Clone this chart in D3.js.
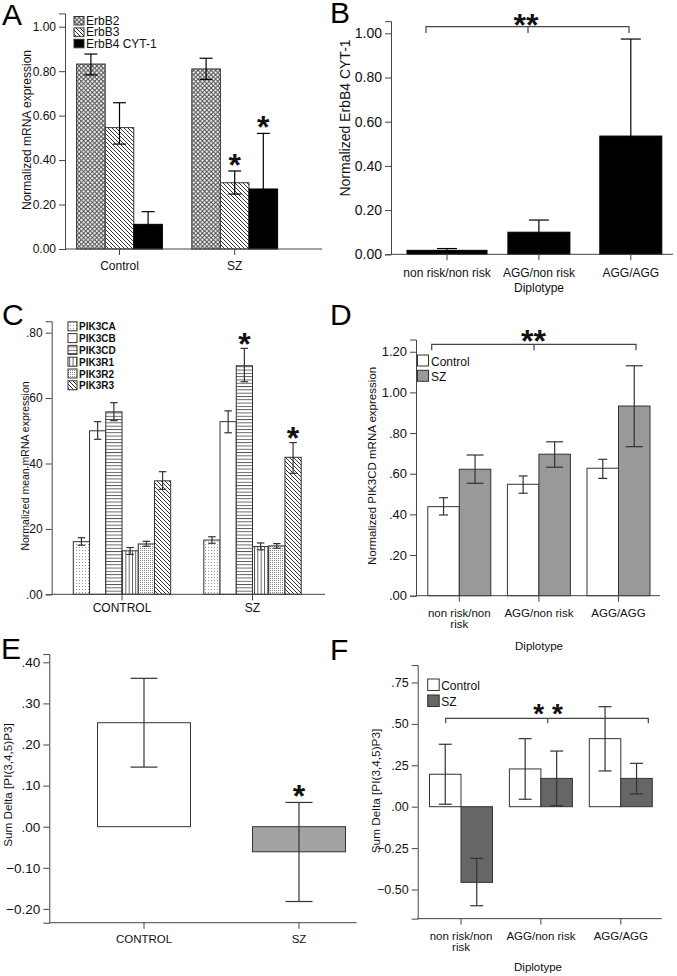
<!DOCTYPE html>
<html><head><meta charset="utf-8">
<script src="https://cdn.jsdelivr.net/npm/d3@7/dist/d3.min.js"></script>
<style>body{margin:0;background:#fff}svg{display:block}</style>
</head><body>
<script>
// ---------------- DATA ----------------
// Panel A
const catsA = ["Control", "SZ"];
const seriesA = ["ErbB2", "ErbB3", "ErbB4 CYT-1"];
const meanA = [[0.832, 0.546, 0.111], [0.810, 0.298, 0.270]];
const errLoA = [[0.783, 0.472, 0.054], [0.763, 0.247, 0.020]];
const errHiA = [[0.877, 0.658, 0.168], [0.858, 0.351, 0.520]];
const sigA = [[0, 0, 0], [0, 1, 1]];
const ticksA = [0, 0.2, 0.4, 0.6, 0.8, 1.0];
// Panel B
const catsB = ["non risk/non risk", "AGG/non risk", "AGG/AGG"];
const meanB = [0.018, 0.100, 0.535];
const errLoB = [0.010, 0.045, 0.096];
const errHiB = [0.026, 0.155, 0.974];
const ticksB = [0, 0.2, 0.4, 0.6, 0.8, 1.0];
// Panel C
const catsC = ["CONTROL", "SZ"];
const seriesC = ["PIK3CA", "PIK3CB", "PIK3CD", "PIK3R1", "PIK3R2", "PIK3R3"];
const meanC = [[0.161, 0.500, 0.558, 0.133, 0.154, 0.347], [0.166, 0.528, 0.699, 0.146, 0.148, 0.419]];
const errLoC = [[0.150, 0.474, 0.531, 0.122, 0.147, 0.321], [0.156, 0.494, 0.650, 0.136, 0.141, 0.370]];
const errHiC = [[0.173, 0.528, 0.586, 0.143, 0.162, 0.375], [0.176, 0.561, 0.752, 0.157, 0.155, 0.464]];
const sigC = [[0, 0, 0, 0, 0, 0], [0, 0, 1, 0, 0, 1]];
const ticksC = [0, 0.2, 0.4, 0.6, 0.8];
// Panel D
const catsD = ["non risk/non risk", "AGG/non risk", "AGG/AGG"];
const groupsD = ["Control", "SZ"];
const meanD = [[0.438, 0.622], [0.548, 0.696], [0.627, 0.933]];
const errLoD = [[0.397, 0.553], [0.504, 0.632], [0.577, 0.733]];
const errHiD = [[0.482, 0.692], [0.589, 0.757], [0.671, 1.131]];
const ticksD = [0, 0.2, 0.4, 0.6, 0.8, 1.0, 1.2];
// Panel E
const catsE = ["CONTROL", "SZ"];
const meanE = [0.253, -0.061];
const errLoE = [0.145, -0.182];
const errHiE = [0.361, 0.059];
const sigE = [0, 1];
const ticksE = [-0.2, -0.1, 0, 0.1, 0.2, 0.3, 0.4];
// Panel F
const catsF = ["non risk/non risk", "AGG/non risk", "AGG/AGG"];
const groupsF = ["Control", "SZ"];
const meanF = [[0.196, -0.457], [0.228, 0.171], [0.411, 0.171]];
const errLoF = [[0.015, -0.598], [0.045, 0.006], [0.216, 0.077]];
const errHiF = [[0.377, -0.312], [0.411, 0.336], [0.604, 0.262]];
const ticksF = [-0.5, -0.25, 0, 0.25, 0.5, 0.75];

// ---------------- SETUP ----------------
const W = 677, H = 976;
const FONT = "'Liberation Sans', Arial, Helvetica, sans-serif";
const AX = "#444", INK = "#333", TXT = "#111";
const svg = d3.select("body").append("svg").attr("width", W).attr("height", H)
  .attr("font-family", FONT);

const defs = svg.append("defs");
function pat(id, w, h, build) {
  const p = defs.append("pattern").attr("id", id).attr("patternUnits", "userSpaceOnUse")
    .attr("width", w).attr("height", h);
  p.append("rect").attr("width", w).attr("height", h).attr("fill", "#fff");
  build(p);
}
pat("pCross", 4.4, 4.4, p => p.append("path").attr("d", "M0,0L4.4,4.4M4.4,0L0,4.4")
  .attr("stroke", "#444").attr("stroke-width", 1));
pat("pDiag", 4, 4, p => p.append("path").attr("d", "M-1,-1L5,5M-1,3L1,5M3,-1L5,1")
  .attr("stroke", "#333").attr("stroke-width", 1));
pat("pHoriz", 3.3, 3.3, p => p.append("rect").attr("y", 0).attr("width", 3.3).attr("height", 0.9).attr("fill", "#555"));
pat("pVert", 3.3, 3.3, p => p.append("rect").attr("x", 0).attr("width", 0.9).attr("height", 3.3).attr("fill", "#555"));
pat("pDotLight", 3, 3, p => p.append("rect").attr("x", 1).attr("y", 1).attr("width", 1).attr("height", 1).attr("fill", "#999"));
pat("pDotDense", 2, 2, p => p.append("rect").attr("x", 0).attr("y", 0).attr("width", 1).attr("height", 1).attr("fill", "#8a8a8a"));

const fillA = ["url(#pCross)", "url(#pDiag)", "#000"];
const fillC = ["url(#pDotLight)", "#fff", "url(#pHoriz)", "url(#pVert)", "url(#pDotDense)", "url(#pDiag)"];

const fmt2 = d3.format(".2f");
const fmtNZ = v => fmt2(v).replace(/^(-?)0\./, "$1.");

function wrap(s) {
  if (s.length > 13) { const i = s.lastIndexOf(" "); return [s.slice(0, i), s.slice(i + 1)]; }
  return [s];
}

function yAxis(c) {
  const y = d3.scaleLinear().domain([c.lo, c.hi])
    .range([c.y0 - c.lo * c.ppu, c.y0 - c.hi * c.ppu]);
  const g = svg.append("g").attr("transform", `translate(${c.x},0)`)
    .call(d3.axisLeft(y).tickValues(c.ticks).tickFormat(c.fmt).tickSizeOuter(0).tickSize(6).tickPadding(3));
  g.attr("font-family", FONT).attr("font-size", c.fs);
  g.selectAll("line,path").attr("stroke", AX).attr("stroke-width", 1);
  g.selectAll("text").attr("fill", TXT);
  return y;
}
function xAxis(c, x, y, cats) {
  const yb = y(c.lo);
  svg.append("line").attr("x1", c.x).attr("x2", c.xEnd).attr("y1", yb).attr("y2", yb)
    .attr("stroke", AX).attr("stroke-width", 1);
  cats.forEach(cat => {
    svg.append("line").attr("x1", x(cat)).attr("x2", x(cat)).attr("y1", yb).attr("y2", yb + 6)
      .attr("stroke", AX).attr("stroke-width", 1);
    const lines = c.wrap ? wrap(cat) : [cat];
    lines.forEach((ln, i) => {
      svg.append("text").attr("x", x(cat)).attr("y", c.labY + i * 11)
        .attr("text-anchor", "middle").attr("font-size", c.cfs).attr("fill", TXT).text(ln);
    });
  });
}
function yTitle(x, y, fs, txt) {
  svg.append("text").attr("transform", `translate(${x},${y}) rotate(-90)`)
    .attr("text-anchor", "middle").attr("dy", "0.35em").attr("font-size", fs).attr("fill", TXT).text(txt);
}
function letter(x, y, t) {
  svg.append("text").attr("x", x).attr("y", y).attr("font-size", 30).attr("fill", "#000").text(t);
}
function star(x, yc, txt, fs) {
  fs = fs || 32;
  svg.append("text").attr("x", x).attr("y", yc + 0.56 * fs).attr("text-anchor", "middle")
    .attr("font-size", fs).attr("font-weight", "bold").attr("fill", "#111").text(txt);
}
function bar(x0, w, y, v, fill, stroke) {
  svg.append("rect").attr("x", x0).attr("width", w)
    .attr("y", y(Math.max(v, 0))).attr("height", Math.abs(y(v) - y(0)))
    .attr("fill", fill).attr("stroke", stroke || INK).attr("stroke-width", 1);
}
function err(cx, y, lo, hi, cap, col) {
  const g = svg.append("g").attr("stroke", col || INK).attr("stroke-width", 1.2);
  g.append("line").attr("x1", cx).attr("x2", cx).attr("y1", y(lo)).attr("y2", y(hi));
  [lo, hi].forEach(v => g.append("line").attr("x1", cx - cap / 2).attr("x2", cx + cap / 2)
    .attr("y1", y(v)).attr("y2", y(v)));
}
function bracket(x1, x2, xm, yl, drop) {
  svg.append("path").attr("d", `M${x1},${yl + drop}V${yl}H${x2}V${yl + drop}M${xm},${yl}V${yl + drop}`)
    .attr("fill", "none").attr("stroke", AX).attr("stroke-width", 1.2);
}
function legend(x, yTop, step, sw, sh, names, fills, fs, bold, tdx, tdy) {
  names.forEach((n, i) => {
    svg.append("rect").attr("x", x).attr("y", yTop + i * step).attr("width", sw).attr("height", sh)
      .attr("fill", fills[i]).attr("stroke", INK).attr("stroke-width", 1);
    svg.append("text").attr("x", x + sw + tdx).attr("y", yTop + i * step + tdy)
      .attr("font-size", fs).attr("font-weight", bold ? "bold" : "normal").attr("fill", TXT).text(n);
  });
}

// ---------------- PANEL A ----------------
{
  const c = { x: 65, xEnd: 322, y0: 249, ppu: 222.3, lo: 0, hi: 1.06, ticks: ticksA, fmt: fmt2, fs: 12, cfs: 12, labY: 270 };
  const y = yAxis(c);
  const x = d3.scalePoint().domain(catsA).range([119.5, 234.7]);
  const xs = d3.scaleBand().domain(seriesA).range([-42.9, 42.9]);
  catsA.forEach((cat, i) => seriesA.forEach((s, j) => bar(x(cat) + xs(s), xs.bandwidth(), y, meanA[i][j], fillA[j], j === 2 ? "#000" : INK)));
  catsA.forEach((cat, i) => seriesA.forEach((s, j) => err(x(cat) + xs(s) + xs.bandwidth() / 2, y, errLoA[i][j], errHiA[i][j], 13, "#000")));
  catsA.forEach((cat, i) => seriesA.forEach((s, j) => { if (sigA[i][j]) star(x(cat) + xs(s) + xs.bandwidth() / 2, y(errHiA[i][j]) - 13, "*"); }));
  xAxis(c, x, y, catsA);
  yTitle(27, 130, 12, "Normalized mRNA expression");
  legend(74, 16.5, 11.4, 10, 8.5, seriesA, fillA, 12, false, 2, 8.2);
  letter(2, 25, "A");
}
// ---------------- PANEL B ----------------
{
  const c = { x: 391, xEnd: 673, y0: 254.3, ppu: 221, lo: 0, hi: 1.055, ticks: ticksB, fmt: fmt2, fs: 14, cfs: 12, labY: 277 };
  const y = yAxis(c);
  const x = d3.scalePoint().domain(catsB).range([447, 630.8]);
  const bwB = [80, 62, 62];
  catsB.forEach((cat, i) => bar(x(cat) - bwB[i] / 2, bwB[i], y, meanB[i], "#000", "#000"));
  catsB.forEach((cat, i) => err(x(cat), y, errLoB[i], errHiB[i], 20, "#000"));
  xAxis(c, x, y, catsB);
  svg.append("text").attr("x", 539).attr("y", 292).attr("text-anchor", "middle").attr("font-size", 12).attr("fill", TXT).text("Diplotype");
  yTitle(345, 118, 14, "Normalized ErbB4 CYT-1");
  bracket(426, 629, 528, 26.7, 6.3);
  star(526, 18, "**");
  letter(330, 23, "B");
}
// ---------------- PANEL C ----------------
{
  const c = { x: 51.7, xEnd: 325, y0: 594.3, ppu: 327, lo: 0, hi: 0.835, ticks: ticksC, fmt: fmtNZ, fs: 12, cfs: 12, labY: 612 };
  const y = yAxis(c);
  const x = d3.scalePoint().domain(catsC).range([122, 252.5]);
  const xs = d3.scaleBand().domain(seriesC).range([-48.7, 48.7]);
  catsC.forEach((cat, i) => seriesC.forEach((s, j) => bar(x(cat) + xs(s), xs.bandwidth(), y, meanC[i][j], fillC[j])));
  catsC.forEach((cat, i) => seriesC.forEach((s, j) => err(x(cat) + xs(s) + xs.bandwidth() / 2, y, errLoC[i][j], errHiC[i][j], 7.5)));
  catsC.forEach((cat, i) => seriesC.forEach((s, j) => { if (sigC[i][j]) star(x(cat) + xs(s) + xs.bandwidth() / 2, y(errHiC[i][j]) - 11, "*"); }));
  xAxis(c, x, y, catsC);
  yTitle(25.5, 466, 10.5, "Normalized mean mRNA expression");
  legend(68, 321.8, 11.8, 9, 9, seriesC, fillC, 10, true, 2, 8.5);
  letter(2, 325, "C");
}
// ---------------- PANEL D ----------------
{
  const c = { x: 416, xEnd: 660, y0: 595.7, ppu: 203.3, lo: 0, hi: 1.26, ticks: ticksD, fmt: fmtNZ, fs: 13, cfs: 11.5, labY: 617, wrap: true };
  const y = yAxis(c);
  const x = d3.scalePoint().domain(catsD).range([459.3, 618.5]);
  const xs = d3.scaleBand().domain(groupsD).range([-31.5, 31.5]);
  const fillD = ["#fff", "#999"];
  const capD = [9, 17];
  catsD.forEach((cat, i) => groupsD.forEach((s, j) => bar(x(cat) + xs(s), xs.bandwidth(), y, meanD[i][j], fillD[j])));
  catsD.forEach((cat, i) => groupsD.forEach((s, j) => err(x(cat) + xs(s) + xs.bandwidth() / 2, y, errLoD[i][j], errHiD[i][j], capD[j])));
  xAxis(c, x, y, catsD);
  svg.append("text").attr("x", 539).attr("y", 650).attr("text-anchor", "middle").attr("font-size", 11.5).attr("fill", TXT).text("Diplotype");
  yTitle(372, 466, 11.5, "Normalized PIK3CD mRNA expression");
  legend(417.5, 355, 15.3, 11, 11, groupsD, fillD, 12, false, 2.5, 10.5);
  bracket(431.7, 636, 534, 344.3, 6);
  star(533.5, 334, "**");
  letter(330, 325, "D");
}
// ---------------- PANEL E ----------------
{
  const c = { x: 49.3, xEnd: 356.7, y0: 826.7, ppu: 411, lo: -0.2336, hi: 0.42, ticks: ticksE, fmt: fmtNZ, fs: 13.5, cfs: 11.5, labY: 943 };
  const y = yAxis(c);
  const x = d3.scalePoint().domain(catsE).range([144, 299]);
  const bw = 93;
  const fillE = ["#fff", "#a3a3a3"];
  catsE.forEach((cat, i) => bar(x(cat) - bw / 2, bw, y, meanE[i], fillE[i]));
  catsE.forEach((cat, i) => err(x(cat), y, errLoE[i], errHiE[i], 27));
  catsE.forEach((cat, i) => { if (sigE[i]) star(x(cat), y(errHiE[i]) - 13.5, "*"); });
  xAxis(c, x, y, catsE);
  yTitle(7.5, 785, 11.7, "Sum Delta [PI(3,4,5)P3]");
  letter(1, 659, "E");
}
// ---------------- PANEL F ----------------
{
  const c = { x: 417.7, xEnd: 661.7, y0: 806.7, ppu: 165.6, lo: -0.676, hi: 0.855, ticks: ticksF, fmt: fmtNZ, fs: 12.5, cfs: 11.5, labY: 940, wrap: true };
  const y = yAxis(c);
  const x = d3.scalePoint().domain(catsF).range([461, 620.8]);
  const xs = d3.scaleBand().domain(groupsF).range([-31.5, 31.5]);
  const fillF = ["#fff", "#666"];
  catsF.forEach((cat, i) => groupsF.forEach((s, j) => bar(x(cat) + xs(s), xs.bandwidth(), y, meanF[i][j], fillF[j])));
  catsF.forEach((cat, i) => groupsF.forEach((s, j) => err(x(cat) + xs(s) + xs.bandwidth() / 2, y, errLoF[i][j], errHiF[i][j], 13)));
  xAxis(c, x, y, catsF);
  svg.append("text").attr("x", 538).attr("y", 971).attr("text-anchor", "middle").attr("font-size", 11.5).attr("fill", TXT).text("Diplotype");
  yTitle(376, 791, 11.8, "Sum Delta [PI(3,4,5)P3]");
  legend(427.7, 679, 16, 11.5, 11.5, groupsF, fillF, 12, false, 2, 10.5);
  bracket(445.7, 648.3, 547.7, 718.3, 5);
  star(548, 707, "* *", 28);
  letter(330, 660, "F");
}
</script>
</body></html>
